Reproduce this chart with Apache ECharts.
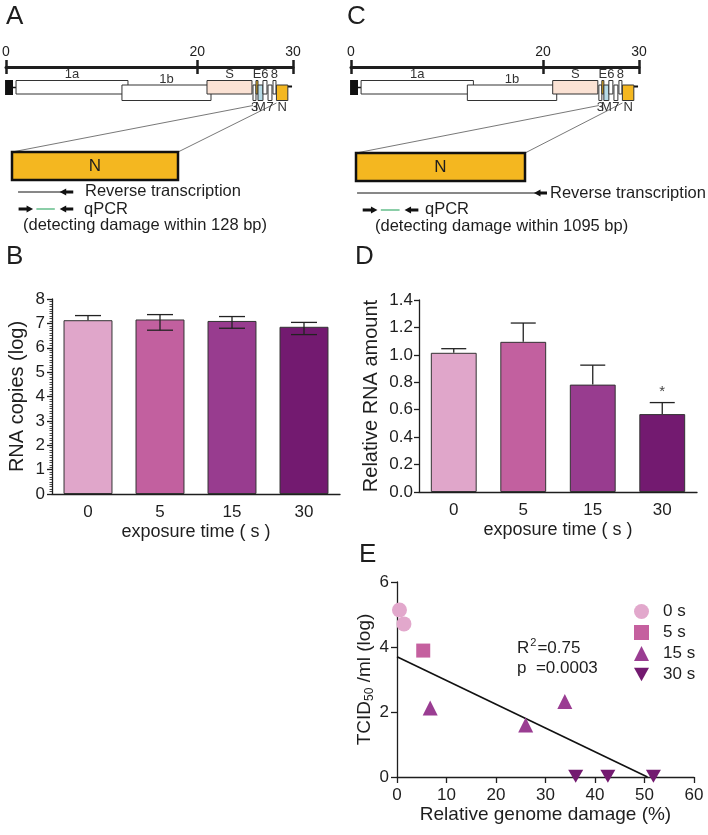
<!DOCTYPE html>
<html><head><meta charset="utf-8">
<script src="https://cdn.jsdelivr.net/npm/echarts@6.0.0/dist/echarts.min.js"></script>
<style>html,body{margin:0;padding:0;background:#fff}#c{width:708px;height:835px}</style>
</head><body><div id="c"></div>
<script>
// ---------- data ----------
const genomeTicks = [0, 20, 30];                       // kb
const geneNames = ['1a','1b','S','3','E','M','6','7','8','N'];
const geneStart = [1.05, 12.12, 21.01, 25.82, 26.13, 26.34, 26.86, 27.39, 27.91, 28.27];
const geneEnd   = [12.75, 21.43, 25.71, 26.13, 26.34, 26.86, 27.28, 27.80, 28.22, 29.46];
const geneFrame = [0, 1, 0, 1, 0, 1, 0, 1, 0, 1];
const capKb = [-0.1, 0.73];
const utr5Kb = [0.73, 1.05];
const utr3Kb = [29.46, 29.9];

const nGeneLen = 1260;                                  // bp
const rtStartA = 46,  rtPrimerA = [362, 465];
const rtStartC = 8,   rtPrimerC = [1327, 1424];
const qpcrFwd = [50, 160], qpcrAmp = [185, 325], qpcrRev = [362, 465];

const timeCats = ['0', '5', '15', '30'];
const rnaCopies    = [7.13, 7.16, 7.10, 6.86];
const rnaCopiesLo  = [7.13, 6.72, 6.80, 6.54];
const rnaCopiesHi  = [7.32, 7.36, 7.28, 7.04];
const relRNA   = [1.015, 1.095, 0.783, 0.568];
const relRNAHi = [1.045, 1.232, 0.925, 0.652];
const relRNASig = ['', '', '', '*'];

const damage0s  = [[0.5, 5.14], [1.4, 4.71]];
const damage5s  = [[5.3, 3.89]];
const damage15s = [[6.7, 2.12], [26.0, 1.60], [33.9, 2.32]];
const damage30s = [[36.1, 0.02], [42.6, 0.02], [51.8, 0.02]];
const regression = [[0, 3.70], [50.6, 0]];
const fitR2 = '0.75', fitP = '0.0003';

// ---------- style ----------
const FONT = 'Liberation Sans, Arial, sans-serif';
const INK = '#1e1e1e';
const ORANGE = '#f4b720';
const GENE_FILL = {S: '#fbe2d4', E: ORANGE, M: '#b7dbe6', N: ORANGE};
const LABEL_BELOW = ['3', 'M', '7', 'N'];
const FRAME_Y = [[13.5, 27], [18, 33.5]];
const BAR_COLORS = ['#e0a6ca', '#c2609f', '#983c8f', '#731a70'];
const PT_COLORS = ['#e2a8cc', '#c5609f', '#9a3d92', '#731a70'];

const chart = echarts.init(document.getElementById('c'));

function genomeXAxes(gridIndex) {
  return [
    {type: 'value', gridIndex, position: 'top', min: 0, max: 30,
     axisLine: {show: true, onZero: false, lineStyle: {color: INK, width: 3}},
     axisTick: {show: true, customValues: genomeTicks, length: 7, lineStyle: {color: INK, width: 2.5}},
     axisLabel: {show: true, customValues: genomeTicks, margin: 8, fontSize: 14, color: INK, fontFamily: FONT},
     splitLine: {show: false}},
    {type: 'value', gridIndex, position: 'top', min: 0, max: 30,
     axisLine: {show: false, onZero: false},
     axisTick: {show: true, inside: true, customValues: genomeTicks, length: 7, lineStyle: {color: INK, width: 2.5}},
     axisLabel: {show: false}, splitLine: {show: false}}
  ];
}
function hiddenAxis(type, gridIndex, min, max, inverse) {
  return {type, gridIndex, min, max, inverse: !!inverse, show: false,
          axisLine: {show: false}, axisTick: {show: false}, axisLabel: {show: false}, splitLine: {show: false}};
}

function geneRender(params, api) {
  const name = geneNames[params.dataIndex];
  const fy = FRAME_Y[api.value(2)];
  const p0 = api.coord([api.value(0), fy[0]]);
  const p1 = api.coord([api.value(1), fy[1]]);
  const below = LABEL_BELOW.indexOf(name) >= 0;
  return {type: 'group', children: [
    {type: 'rect', shape: {x: p0[0], y: p0[1], width: p1[0] - p0[0], height: p1[1] - p0[1]},
     style: {fill: GENE_FILL[name] || '#fff', stroke: '#333', lineWidth: 1}},
    {type: 'text', style: {text: name, x: (p0[0] + p1[0]) / 2, y: below ? p1[1] + 0.5 : p0[1] + 0.5,
     align: 'center', verticalAlign: below ? 'top' : 'bottom', font: '13px ' + FONT, fill: '#333'}}
  ]};
}
function endsRender(params, api) {
  const c0 = api.coord([capKb[0], 13]), c1 = api.coord([capKb[1], 28]);
  const u0 = api.coord([utr5Kb[0], 20.5]), u1 = api.coord([utr5Kb[1], 20.5]);
  const t0 = api.coord([utr3Kb[0], 19.5]), t1 = api.coord([utr3Kb[1], 19.5]);
  return {type: 'group', children: [
    {type: 'rect', shape: {x: c0[0], y: c0[1], width: c1[0] - c0[0], height: c1[1] - c0[1]}, style: {fill: '#111'}},
    {type: 'line', shape: {x1: u0[0], y1: u0[1], x2: u1[0], y2: u1[1]}, style: {stroke: '#111', lineWidth: 1.5}},
    {type: 'line', shape: {x1: t0[0], y1: t0[1], x2: t1[0], y2: t1[1]}, style: {stroke: '#111', lineWidth: 2}}
  ]};
}
function arrow(xTip, xTail, y, dir) {
  const head = 6.5, hh = 3.6, sh = 1.4;
  const pts = dir < 0
    ? [[xTip, y], [xTip + head, y - hh], [xTip + head, y - sh], [xTail, y - sh], [xTail, y + sh], [xTip + head, y + sh], [xTip + head, y + hh]]
    : [[xTip, y], [xTip - head, y - hh], [xTip - head, y - sh], [xTail, y - sh], [xTail, y + sh], [xTip - head, y + sh], [xTip - head, y + hh]];
  return {type: 'polygon', shape: {points: pts}, style: {fill: '#111'}};
}
function insetRender(rtStart, rtPrimer) {
  return function (params, api) {
    const X = v => api.coord([v, 0])[0];
    const y0 = api.coord([0, 0])[1];
    const yRT = api.coord([0, 40])[1], yQ = api.coord([0, 57])[1];
    const xb0 = X(0), xb1 = X(nGeneLen);
    return {type: 'group', children: [
      {type: 'rect', shape: {x: xb0, y: y0, width: xb1 - xb0, height: 28},
       style: {fill: ORANGE, stroke: '#111', lineWidth: 2.5}},
      {type: 'text', style: {text: 'N', x: (xb0 + xb1) / 2, y: y0 + 14, align: 'center', verticalAlign: 'middle',
       font: '17px ' + FONT, fill: INK}},
      {type: 'line', shape: {x1: X(rtStart), y1: yRT, x2: X(rtPrimer[0]) + 3, y2: yRT}, style: {stroke: '#111', lineWidth: 1}},
      arrow(X(rtPrimer[0]), X(rtPrimer[1]), yRT, -1),
      arrow(X(qpcrFwd[1]), X(qpcrFwd[0]), yQ, 1),
      {type: 'line', shape: {x1: X(qpcrAmp[0]), y1: yQ, x2: X(qpcrAmp[1]), y2: yQ}, style: {stroke: '#3fae6e', lineWidth: 1.2}},
      arrow(X(qpcrRev[0]), X(qpcrRev[1]), yQ, -1)
    ]};
  };
}
function errRender(capHalf, sig) {
  return function (params, api) {
    const i = api.value(0);
    const pl = api.coord([i, api.value(1)]), ph = api.coord([i, api.value(2)]), pm = api.coord([i, api.value(3)]);
    const x = ph[0];
    const ch = [
      {type: 'line', shape: {x1: x, y1: Math.max(pl[1], pm[1]), x2: x, y2: ph[1]}, style: {stroke: '#222', lineWidth: 1.3}},
      {type: 'line', shape: {x1: x - capHalf, y1: ph[1], x2: x + capHalf, y2: ph[1]}, style: {stroke: '#222', lineWidth: 1.3}}
    ];
    if (api.value(1) < api.value(3) - 1e-6) {
      ch.push({type: 'line', shape: {x1: x - capHalf, y1: pl[1], x2: x + capHalf, y2: pl[1]}, style: {stroke: '#222', lineWidth: 1.3}});
    }
    if (sig && sig[params.dataIndex]) {
      ch.push({type: 'text', style: {text: sig[params.dataIndex], x: x, y: ph[1] - 3, align: 'center', verticalAlign: 'bottom',
        font: '15px ' + FONT, fill: '#444'}});
    }
    return {type: 'group', children: ch};
  };
}

const catAxis = (gridIndex) => ({
  type: 'category', gridIndex, data: timeCats,
  axisLine: {lineStyle: {color: INK, width: 1.3}}, axisTick: {show: false},
  axisLabel: {fontSize: 17, color: INK, fontFamily: FONT, margin: 10},
  name: 'exposure time ( s )', nameLocation: 'middle', nameGap: 29,
  nameTextStyle: {fontSize: 18, color: INK, fontFamily: FONT}
});

const option = {
  animation: false,
  textStyle: {fontFamily: FONT},
  grid: [
    {left: 6,   top: 67,  width: 287, height: 130, outerBoundsMode: 'none'},   // A genome
    {left: 12,  top: 152, width: 166, height: 80,  outerBoundsMode: 'none'},   // A inset
    {left: 351, top: 67,  width: 288, height: 130, outerBoundsMode: 'none'},   // C genome
    {left: 356, top: 153, width: 169, height: 80,  outerBoundsMode: 'none'},   // C inset
    {left: 52,  top: 299, width: 288, height: 195, outerBoundsMode: 'none'},   // B
    {left: 419, top: 300, width: 278, height: 192, outerBoundsMode: 'none'},   // D
    {left: 397, top: 582, width: 297, height: 195, outerBoundsMode: 'none'}    // E
  ],
  xAxis: [
    ...genomeXAxes(0),
    hiddenAxis('value', 1, 0, nGeneLen),
    ...genomeXAxes(2),
    hiddenAxis('value', 3, 0, nGeneLen),
    catAxis(4),
    catAxis(5),
    {type: 'value', gridIndex: 6, min: 0, max: 60, interval: 10,
     axisLine: {show: true, lineStyle: {color: INK, width: 1.3}},
     axisTick: {show: true, length: 6, lineStyle: {color: INK, width: 1.3}},
     axisLabel: {fontSize: 17, color: INK, fontFamily: FONT, margin: 10},
     splitLine: {show: false},
     name: 'Relative genome damage (%)', nameLocation: 'middle', nameGap: 28,
     nameTextStyle: {fontSize: 19, color: INK, fontFamily: FONT}}
  ],
  yAxis: [
    hiddenAxis('value', 0, 0, 130, true),
    hiddenAxis('value', 1, 0, 80, true),
    hiddenAxis('value', 2, 0, 130, true),
    hiddenAxis('value', 3, 0, 80, true),
    {type: 'value', gridIndex: 4, min: 0, max: 8, interval: 1,
     axisLine: {show: true, lineStyle: {color: INK, width: 1.3}},
     axisTick: {show: true, length: 5, lineStyle: {color: INK, width: 1.3}},
     minorTick: {show: true, splitNumber: 10, length: 2.5, lineStyle: {color: INK, width: 0.8}},
     axisLabel: {fontSize: 17, color: INK, fontFamily: FONT, margin: 7},
     splitLine: {show: false},
     name: 'RNA copies (log)', nameLocation: 'middle', nameGap: 25,
     nameTextStyle: {fontSize: 20, color: INK, fontFamily: FONT}},
    {type: 'value', gridIndex: 5, min: 0, max: 1.4, interval: 0.2,
     axisLine: {show: true, lineStyle: {color: INK, width: 1.3}},
     axisTick: {show: true, length: 5, lineStyle: {color: INK, width: 1.3}},
     axisLabel: {fontSize: 17, color: INK, fontFamily: FONT, margin: 6, formatter: v => v.toFixed(1)},
     splitLine: {show: false},
     name: 'Relative RNA amount', nameLocation: 'middle', nameGap: 38,
     nameTextStyle: {fontSize: 20, color: INK, fontFamily: FONT}},
    {type: 'value', gridIndex: 6, min: 0, max: 6, interval: 2,
     axisLine: {show: true, lineStyle: {color: INK, width: 1.3}},
     axisTick: {show: true, length: 6, lineStyle: {color: INK, width: 1.3}},
     axisLabel: {fontSize: 17, color: INK, fontFamily: FONT, margin: 8},
     splitLine: {show: false},
     name: '{a|TCID}{b|50}{a| /ml (log)}', nameLocation: 'middle', nameGap: 20,
     nameTextStyle: {color: INK, fontFamily: FONT, rich: {
       a: {fontSize: 19, lineHeight: 22, fontFamily: FONT, color: INK},
       b: {fontSize: 12, lineHeight: 12, verticalAlign: 'bottom', fontFamily: FONT, color: INK}}}}
  ],
  legend: {
    data: ['0 s', '5 s', '15 s', '30 s'], orient: 'vertical', left: 634, top: 603,
    itemWidth: 15, itemHeight: 15, itemGap: 4, selectedMode: false, padding: 0,
    textStyle: {fontSize: 17, lineHeight: 15, color: INK, fontFamily: FONT, padding: [0, 0, 0, 9]}
  },
  series: [
    // A
    {type: 'custom', xAxisIndex: 0, yAxisIndex: 0, clip: false, renderItem: endsRender, data: [[0, 0]]},
    {type: 'custom', xAxisIndex: 0, yAxisIndex: 0, clip: false, renderItem: geneRender,
     data: geneNames.map((n, i) => [geneStart[i], geneEnd[i], geneFrame[i]])},
    {type: 'custom', xAxisIndex: 2, yAxisIndex: 1, clip: false, renderItem: insetRender(rtStartA, rtPrimerA), data: [[0, nGeneLen]]},
    // C
    {type: 'custom', xAxisIndex: 3, yAxisIndex: 2, clip: false, renderItem: endsRender, data: [[0, 0]]},
    {type: 'custom', xAxisIndex: 3, yAxisIndex: 2, clip: false, renderItem: geneRender,
     data: geneNames.map((n, i) => [geneStart[i], geneEnd[i], geneFrame[i]])},
    {type: 'custom', xAxisIndex: 5, yAxisIndex: 3, clip: false, renderItem: insetRender(rtStartC, rtPrimerC), data: [[0, nGeneLen]]},
    // B
    {type: 'bar', xAxisIndex: 6, yAxisIndex: 4, barWidth: '68%',
     itemStyle: {borderColor: '#333', borderWidth: 1},
     data: rnaCopies.map((v, i) => ({value: v, itemStyle: {color: BAR_COLORS[i]}}))},
    {type: 'custom', xAxisIndex: 6, yAxisIndex: 4, z: 5, clip: false, renderItem: errRender(13, null),
     data: rnaCopies.map((v, i) => [i, rnaCopiesLo[i], rnaCopiesHi[i], v])},
    // D
    {type: 'bar', xAxisIndex: 7, yAxisIndex: 5, barWidth: '66%',
     itemStyle: {borderColor: '#333', borderWidth: 1},
     data: relRNA.map((v, i) => ({value: v, itemStyle: {color: BAR_COLORS[i]}}))},
    {type: 'custom', xAxisIndex: 7, yAxisIndex: 5, z: 5, clip: false, renderItem: errRender(12.5, relRNASig),
     data: relRNA.map((v, i) => [i, v, relRNAHi[i], v])},
    // E
    {type: 'line', xAxisIndex: 8, yAxisIndex: 6, data: regression, symbol: 'none', z: 1,
     lineStyle: {color: '#111', width: 1.6}},
    {name: '0 s', type: 'scatter', xAxisIndex: 8, yAxisIndex: 6, data: damage0s, symbol: 'circle', symbolSize: 15,
     itemStyle: {color: PT_COLORS[0], opacity: 1}},
    {name: '5 s', type: 'scatter', xAxisIndex: 8, yAxisIndex: 6, data: damage5s, symbol: 'rect', symbolSize: 14,
     itemStyle: {color: PT_COLORS[1], opacity: 1}},
    {name: '15 s', type: 'scatter', xAxisIndex: 8, yAxisIndex: 6, data: damage15s, symbol: 'triangle', symbolSize: 15,
     itemStyle: {color: PT_COLORS[2], opacity: 1}},
    {name: '30 s', type: 'scatter', xAxisIndex: 8, yAxisIndex: 6, data: damage30s, symbol: 'path://M0,0L10,0L5,9Z', symbolSize: [15, 13],
     itemStyle: {color: PT_COLORS[3], opacity: 1}}
  ]
};
chart.setOption(option);

// ---------- annotations (texts + zoom guide lines computed through the axes) ----------
function px(xAxisIndex, yAxisIndex, v) {
  return [chart.convertToPixel({xAxisIndex}, v[0]), chart.convertToPixel({yAxisIndex}, v[1])];
}
function zoomLines(gx, gy, ix, iy) {
  const a0 = px(gx, gy, [geneStart[3], 38.5]), a1 = px(gx, gy, [geneStart[9], 36]);
  const b0 = px(ix, iy, [0, 0]), b1 = px(ix, iy, [nGeneLen, 0]);
  return [
    {type: 'line', silent: true, shape: {x1: a0[0], y1: a0[1], x2: b0[0], y2: b0[1]}, style: {stroke: '#555', lineWidth: 0.8}},
    {type: 'line', silent: true, shape: {x1: a1[0], y1: a1[1], x2: b1[0], y2: b1[1]}, style: {stroke: '#555', lineWidth: 0.8}}
  ];
}
const txt = (text, x, y, size, extra) => Object.assign({type: 'text', silent: true,
  style: Object.assign({text, x, y, font: size + 'px ' + FONT, fill: INK, align: 'left', verticalAlign: 'middle'}, extra || {})});
chart.setOption({graphic: {elements: [
  ...zoomLines(0, 0, 2, 1),
  ...zoomLines(3, 2, 5, 3),
  txt('A', 6, 17, 26), txt('B', 6, 257, 26), txt('C', 347, 17, 26), txt('D', 355, 257, 26), txt('E', 359, 555, 26),
  txt('Reverse transcription', 85, 191, 16.5),
  txt('qPCR', 84, 209, 16.5),
  txt('(detecting damage within 128 bp)', 23, 225, 16.5),
  txt('Reverse transcription', 550, 193, 16.5),
  txt('qPCR', 425, 209, 16.5),
  txt('(detecting damage within 1095 bp)', 375, 226, 16.5),
  {type: 'text', silent: true, x: 517, y: 648, style: {text: '{a|R}{s|2}{a|=' + fitR2 + '}', verticalAlign: 'middle',
    rich: {a: {fontSize: 17, lineHeight: 22, fontFamily: FONT, fill: INK, color: INK},
           s: {fontSize: 11, lineHeight: 11, verticalAlign: 'top', fontFamily: FONT, fill: INK, color: INK, padding: [0, 1, 0, 1]}}}},
  txt('p  =' + fitP, 517, 668, 17)
]}});
</script></body></html>
